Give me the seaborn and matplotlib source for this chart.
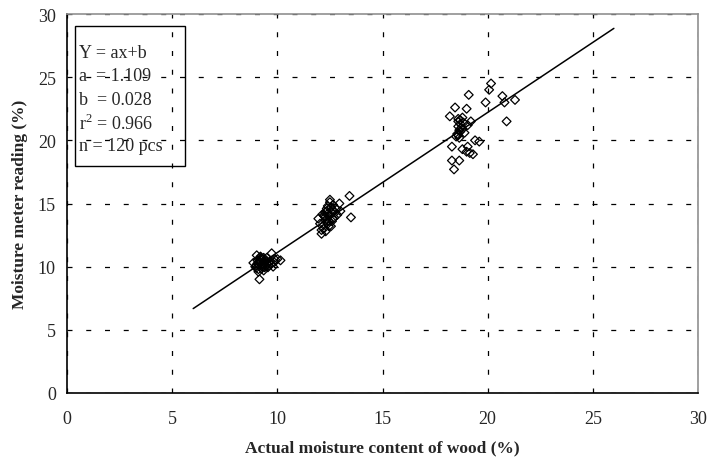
import matplotlib
matplotlib.use("Agg")
import matplotlib.pyplot as plt
import seaborn as sns
import numpy as np
import pandas as pd
from matplotlib.patches import Rectangle

# ---- data ----
actual_mc = [
    # cluster ~9-10 %
    9.15, 9.73, 9.90, 9.65, 9.02, 8.86, 9.00, 9.18, 9.40, 9.10,
    9.40, 9.60, 9.35, 9.50, 9.05, 9.20, 9.30, 9.10, 9.25, 9.00,
    9.45, 9.15, 9.35, 9.55, 9.70, 9.80, 10.00, 10.15, 9.20, 9.05,
    9.30, 9.45, 9.10, 9.60, 8.95, 9.25, 9.50, 9.85, 9.15, 9.35,
    # cluster ~12-13.5 %
    13.43, 13.50, 12.50, 12.65, 13.00, 12.35, 12.27, 11.95, 12.03, 12.20,
    12.10, 12.40, 12.60, 12.50, 12.75, 12.27, 12.35, 12.20, 12.45, 12.55,
    12.30, 12.40, 12.60, 12.70, 12.15, 12.85, 12.45, 12.25, 12.50, 12.65,
    12.35, 12.10, 12.55, 12.40, 12.80, 12.95, 12.30, 12.45, 12.60, 12.20,
    # cluster ~18-21 %
    20.16, 20.07, 19.10, 19.90, 20.70, 20.80, 21.30, 20.90, 18.45, 19.00,
    18.20, 18.60, 18.80, 19.20, 18.60, 18.70, 18.65, 18.80, 19.05, 19.40,
    19.60, 19.05, 18.30, 18.80, 19.00, 19.30, 18.65, 18.30, 18.40, 18.70,
    18.55, 18.75, 18.60, 18.90, 18.70, 18.50, 18.65, 18.85, 19.15, 18.60,
]
meter_reading = [
    9.00, 11.06, 10.55, 10.40, 10.90, 10.30, 10.10, 10.60, 10.30, 9.80,
    9.95, 10.10, 9.70, 10.70, 10.50, 10.80, 10.00, 10.20, 10.65, 9.90,
    10.45, 10.35, 10.15, 9.95, 10.20, 10.00, 10.60, 10.50, 10.75, 10.25,
    10.55, 10.05, 9.60, 10.30, 10.00, 9.85, 10.25, 10.35, 10.45, 10.70,
    15.60, 13.90, 15.30, 14.90, 14.40, 14.60, 14.30, 13.80, 13.40, 13.00,
    12.60, 13.40, 13.60, 14.10, 14.30, 13.90, 13.50, 13.30, 14.00, 14.70,
    13.70, 14.20, 14.50, 13.90, 14.15, 14.10, 13.20, 14.00, 15.10, 13.80,
    14.40, 12.90, 13.20, 14.80, 14.60, 15.00, 12.80, 13.60, 14.25, 14.05,
    24.50, 24.00, 23.60, 23.00, 23.50, 23.00, 23.20, 21.50, 22.60, 22.50,
    21.90, 21.50, 21.80, 21.50, 21.10, 20.70, 20.20, 20.90, 21.20, 20.00,
    19.90, 19.50, 19.50, 19.30, 19.10, 18.90, 18.40, 18.40, 17.70, 21.30,
    20.50, 21.00, 20.40, 20.60, 21.60, 20.30, 20.80, 21.40, 19.00, 21.70,
]
slope_a = 1.109
intercept_b = 0.028
fit_x = [6.0, 26.0]
x_ticks = [0, 5, 10, 15, 20, 25, 30]
y_ticks = [0, 5, 10, 15, 20, 25, 30]
box_lines = ["Y = ax+b", "a  = 1.109", "b  = 0.028", "r$^2$ = 0.966", "n = 120 pcs"]

# ---- plot ----
sns.set_style("white")
plt.rcParams["font.family"] = ["Liberation Serif", "DejaVu Serif"]
plt.rcParams["mathtext.fontset"] = "custom"
plt.rcParams["mathtext.rm"] = "Liberation Serif"

fig = plt.figure(figsize=(7.10, 4.64), dpi=100)
ax = fig.add_axes([67 / 710, 1 - 394 / 464, (698 - 67) / 710, (394 - 15) / 464])

df = pd.DataFrame({"x": actual_mc, "y": meter_reading})
sns.scatterplot(data=df, x="x", y="y", ax=ax, marker="D", s=20,
                facecolor="none", edgecolor="black", linewidth=0.9, zorder=3)

fit_df = pd.DataFrame({"x": fit_x, "y": [slope_a * v + intercept_b for v in fit_x]})
sns.lineplot(data=fit_df, x="x", y="y", ax=ax, color="black", linewidth=1.1, zorder=4)

ax.set_xlim(0, 30)
ax.set_ylim(0, 30)
ax.set_xticks(x_ticks)
ax.set_yticks(y_ticks)
ax.set_xticklabels([str(t) for t in x_ticks], fontsize=13)
ax.set_yticklabels([str(t) for t in y_ticks], fontsize=13)
ax.tick_params(direction="out", length=4, width=1, color="black")
ax.tick_params(axis="x", pad=8)
ax.tick_params(axis="y", pad=4)

ax.grid(True, color="black", linestyle=(0, (4, 11)), linewidth=0.9)
ax.set_axisbelow(True)

for side in ["left", "bottom"]:
    ax.spines[side].set_color("black")
    ax.spines[side].set_linewidth(1.2)
for side in ["top", "right"]:
    ax.spines[side].set_color("#909090")
    ax.spines[side].set_linewidth(1.2)

ax.set_xlabel("Actual moisture content of wood (%)", fontsize=12.5, fontweight="bold", labelpad=9)
ax.set_ylabel("Moisture meter reading (%)", fontsize=12.5, fontweight="bold", labelpad=7)

# equation box
bx0, by0 = 0.0127, 0.599
bx1, by1 = 0.187, 0.968
ax.add_patch(Rectangle((bx0, by0), bx1 - bx0, by1 - by0, transform=ax.transAxes,
                       facecolor="none", edgecolor="black", linewidth=1.0, zorder=5))
line_y0 = 0.898
for i, t in enumerate(box_lines):
    ax.text(bx0 + 0.006, line_y0 - i * 0.0615, t, transform=ax.transAxes,
            fontsize=13, va="center", ha="left", zorder=6)

fig.savefig("out.png", dpi=100)
